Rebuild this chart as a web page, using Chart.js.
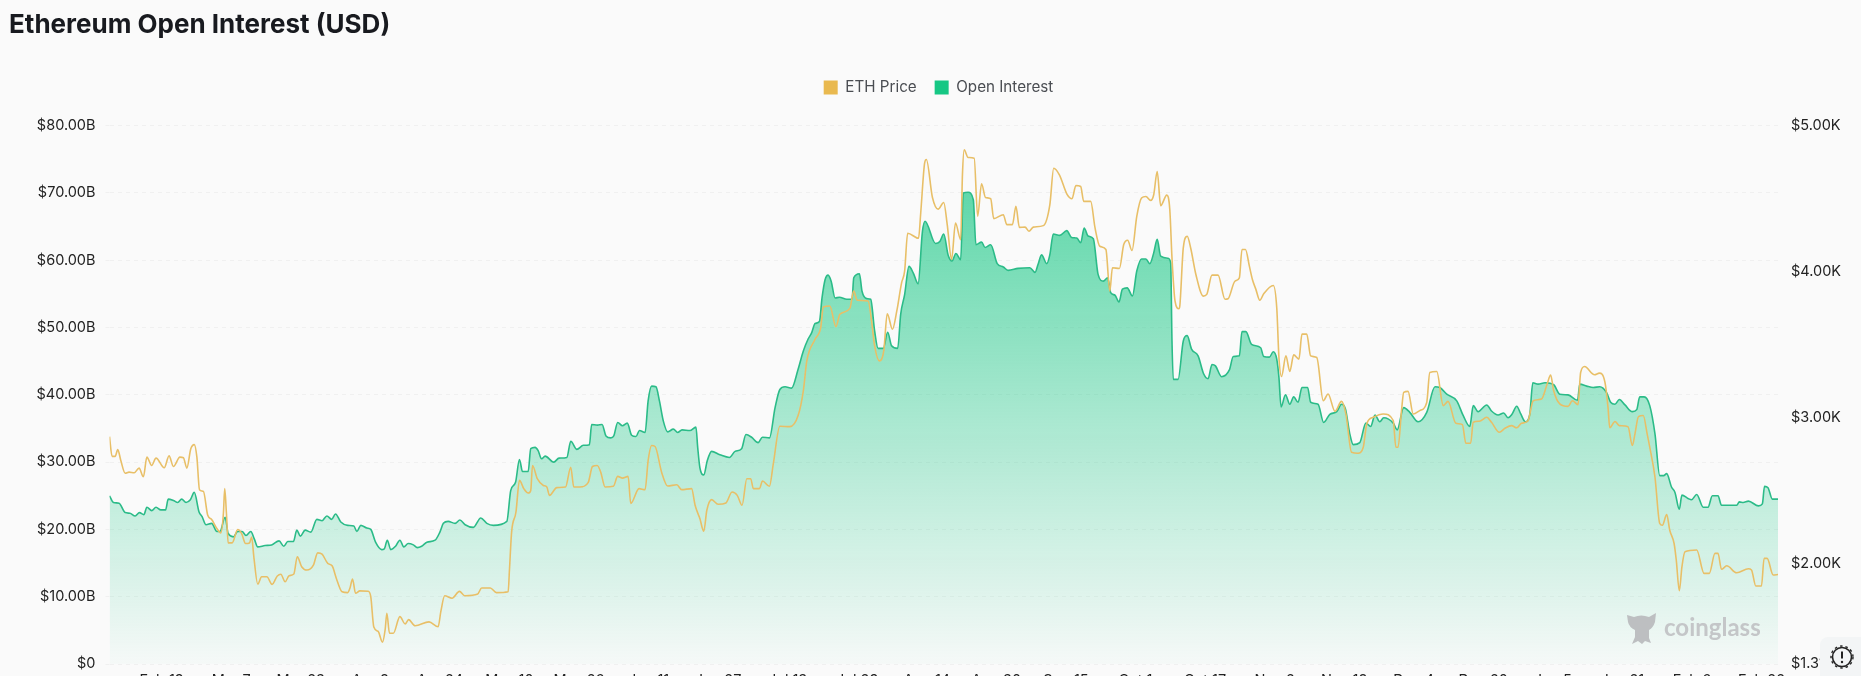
<!DOCTYPE html>
<html>
<head>
<meta charset="utf-8">
<title>Ethereum Open Interest (USD)</title>
<script src="https://cdn.jsdelivr.net/npm/chart.js@4/dist/chart.umd.min.js"></script>
<style>
    html, body { margin: 0; padding: 0; background: #fafafa; overflow: hidden; }
    #wrap { position: relative; width: 1861px; height: 676px; font-family: Inter, sans-serif; }
    #wrap canvas { position: absolute; left: 0; top: 0; }
    h1 { position: absolute; left: 9px; top: 9px; margin: 0; font-size: 26px; line-height: 30px; font-weight: 700; color: #181a1f; z-index: 2; }
    #mark { position: absolute; left: 1626px; top: 611px; width: 140px; height: 34px; z-index: 2; }
    #mark span { position: absolute; left: 38px; top: 1px; font: 700 24px Lato, sans-serif; color: #c4c6c8; }
    #report { position: absolute; left: 1820px; top: 637px; width: 41px; height: 39px; background: #f3f5f6; border-top-left-radius: 8px; z-index: 2; }
</style>
</head>
<body>
<div id="wrap">
    <h1>Ethereum Open Interest (USD)</h1>
    <canvas id="oiChart" width="1861" height="676"></canvas>
    <div id="mark">
        <svg width="32" height="34" viewBox="0 0 32 34"><path d="M1 4 L8 6 Q15 3 23 6 L30 2 L29 11 Q27 17 23 19 L23 27 L25 32 L19 30 L16 33 L12 30 L6 33 L9 26 L9 19 Q3 16 2 11 Z" fill="#bdbfc1"/></svg>
        <span>coinglass</span>
    </div>
    <div id="report">
        <svg width="41" height="39" viewBox="0 0 41 39">
            <circle cx="22" cy="20" r="9.5" fill="none" stroke="#222" stroke-width="1.6"/>
            <circle cx="22" cy="20" r="11" fill="none" stroke="#222" stroke-width="1.4" stroke-dasharray="2.5 3"/>
            <path d="M22 14.5 V21.5" stroke="#222" stroke-width="2"/>
            <circle cx="22" cy="25" r="1.2" fill="#222"/>
        </svg>
    </div>
</div>
<script>
// open interest, $ billions. days counted from the left edge
const oiDays = [0,0.9,2.2,3.6,4.7,5.9,6.9,7.9,8.6,9.7,10.7,11.8,12.9,13.5,14.7,15.7,16.6,17.6,18.6,19.5,20.6,21.3,22.2,23.5,24.7,25.4,26.6,27.3,28.5,29.5,30.5,31.4,32.5,33.3,34.1,35.8,37.3,39,40.1,41,42.3,43.1,43.9,45,46.3,47.7,48.9,50,51.1,52,53.2,54.8,56.2,56.9,57.8,59.2,60.1,61.2,62.6,63.2,63.9,64.7,65.8,66.8,67.7,68.7,69.9,70.8,71.8,73,74.9,76,76.8,77.9,79.5,80.6,81.8,83.7,85.4,86.8,88.3,91.4,92.3,93.4,94.3,95,96.3,96.9,97.9,98.6,99.4,100.2,102.2,103.4,105.2,106.1,107.5,109,110.4,110.9,112.2,113.3,114.2,115.3,116,116.9,118,119.1,120.1,121.1,121.9,123.2,123.9,124.7,125.7,126.5,127.4,128.4,129.7,130.7,131.7,133.5,134.9,135.3,135.8,136.7,137.5,138.5,140.4,142.6,143.9,145.4,146.4,147.7,149.2,150.2,151.8,153.1,154.2,155.4,156.9,158.4,159.6,160.7,161.5,162.3,163.3,163.9,164.6,165.3,166,166.9,167.9,169.6,170.8,171.2,172.5,173.1,174.2,175.1,176,176.8,178,179,179.9,181.3,182,182.9,183.9,184.9,186,187,187.6,190,191,191.9,192.9,193.8,194.7,195.8,196.4,197.5,198.7,199.3,200.6,201.4,202.7,204.2,205.6,206.7,209,211.7,212.9,213.6,214.4,215.6,216.3,217.1,218.6,220.2,221.3,222.5,223.4,224.2,225.1,226.3,227.4,228.6,229.6,230.3,231.3,232.2,233,234.1,235.3,236.3,237.4,238.4,239.3,240.2,241,241.8,243.5,244.1,244.4,244.7,245.8,247,247.9,248.9,250.4,251.7,252.7,253.6,254.4,255.8,257.6,258.5,259.9,260.5,261.4,262.7,264.8,265.5,266.8,267.7,268.5,269,269.5,270.5,271.5,272.4,273.4,274.3,275.6,276.3,278,279.3,280.7,282.3,283.4,284.3,285.3,286.1,287.6,289,290.1,291.1,292.2,293.1,295.3,296.2,297.7,299.1,301,303,304.9,306,307.6,309.9,311.4,312.9,313.7,314.8,316.8,317.9,319.4,320.7,321.7,322.6,323.7,324.6,325.7,326.7,327.4,328.6,330.2,332.2,333.6,335.5,337.7,338.2,339.8,341.3,342.8,344.4,345.3,346.3,347.3,348.6,350.3,351.3,352,353,354.3,355.5,356.6,357.5,358.2,359.3,360.1,361.1,361.7,363.1,363.9,365.1,366.6,367.7,368.7,370,370.8,374.3,374.9,375.8,377,379.3,380.2,380.7,381.5,382.5,383.8];
const oiValues = [25,24,23.9,22.5,22.4,22,22.5,22.2,23.3,22.8,23.3,22.9,22.9,24.5,24.3,24,24.5,24,24.4,25.5,22.6,21.9,20.7,20.9,19.7,19.7,21.8,19.4,18.9,19.7,19.7,19.1,19.7,18.6,17.4,17.6,17.7,18.3,17.5,18.2,18.2,19.9,19,19.9,19.6,21.5,21.3,22,21.5,22.3,21.1,20.6,20.5,19.7,20.6,20.2,20,18.1,17,17.1,18.4,17,17.5,18.4,17.4,17.9,17.7,17.3,17.5,18.1,18.4,19.6,20.9,21.2,20.9,21.4,20.7,20.3,21.7,20.9,20.6,21.2,25.8,27,30.4,28.6,28.6,32,32.2,31.7,30.5,30.9,30,30.6,30.7,33.1,31.9,32.5,32.6,35.6,35.5,35.6,33.9,33.6,33.9,35.9,35.4,35.8,34,33.8,34.7,34.4,39.1,41.3,41.2,39.1,36.1,34.5,34.9,34.4,34.8,34.7,35.2,32.2,29.2,28.1,30.2,31.6,31.1,30.7,31.6,32,34.1,33.7,32.9,33.7,33.6,38.1,40.8,41.2,41,43.8,46.5,48.3,49.2,50.6,50.9,54.4,57.1,57.8,56.9,54.4,54.5,54.2,54.2,57.4,58,55.4,54.3,54.2,49.5,46.9,46.9,49.3,47.3,46.9,52,54.9,59.1,58.1,56.5,64.3,65.8,62.5,62.8,63.9,60.8,59.9,61,60.1,70,70.1,69,62.3,62.7,61.9,62.3,59.5,59,58.5,58.8,58.9,58.2,59.4,60.8,59.5,60.8,63.9,63.7,64.4,63.4,63.3,62.6,64.8,63.6,63.2,57.9,56.9,57.4,55.2,54.8,53.8,55.7,55.9,54.7,58.4,60.2,60.2,59.5,61.1,63.1,60.6,60.3,59.6,48,42.3,42.3,48,48.8,46.8,45.8,43.1,42.4,44.5,44.3,42.7,43.7,45.7,45.8,49.4,49.4,47.5,47,45.7,45.6,46.4,45.3,42.6,38.2,40,38.6,39.7,38.9,41.1,41.1,38.9,38.6,35.9,37.1,37.5,38.6,37.9,34.2,32.6,32.9,35.8,35.3,37,36,36.6,35.8,34.8,38.1,37.4,36,37.4,41.2,41.1,40.1,39.1,36.9,35.3,38.4,37.5,38.5,37.6,37,37.3,36.6,37.1,38.3,37.2,36,37.1,41.8,41.6,41.8,41.5,40.1,40,39.2,41.6,41.3,41.1,41.2,40.3,38.9,38.6,39.3,38.5,37.5,37.8,39.7,39.7,38.4,34.2,28,28,28.3,26.3,25.5,23,25.1,24.6,24.4,25.2,23.3,23.3,25,25,23.6,23.6,24.1,24,24.2,23.5,23.8,26.4,26.2,24.5,24.5];

// ETH price, $
const priceDays = [0,0.6,1.3,1.9,2.6,3.6,4.5,5.7,6.8,7.8,8.6,9.7,10.7,12.6,13.7,14.7,16.2,17,17.8,18.7,19.5,20.1,20.7,21.6,22.6,23.5,24.7,25.6,26.2,26.5,26.9,27.3,28.2,29.5,30.4,31.3,32.2,32.7,33.2,34.1,35,36.2,37.4,38.6,39.4,40.4,41.3,42.4,43.2,44.2,45.4,46.9,47.9,48.9,50.2,51.2,52.3,53.5,54.8,55.3,55.9,56.6,57.6,59.5,60.1,60.8,61.8,62.8,63.4,63.8,64.4,65.3,66.8,68,68.8,70.3,73.5,75.6,76.2,77.1,78.8,80.5,81.7,84.7,85.6,87.6,89,91.7,92,92.5,93.5,94.3,95.3,96.3,96.9,97.3,98.4,99.8,100.6,101.2,102.9,104.9,106.1,106.8,108.2,110.1,111.1,112.2,113,114,115.9,116.9,118,119.3,119.9,121.8,123.2,123.9,124.7,125.5,127,128.4,130.5,131.6,133.9,134.7,135.8,136.7,137.4,138.5,140,141.8,143.2,144.4,145.5,146.6,147.5,148.1,149.5,150.2,151.8,152.7,154.2,156.5,158.4,159.6,160.4,162.3,163.6,164.2,165.7,167.1,168,170.3,171.2,172,174.5,175.3,176,177.1,178.1,178.9,180.1,181.1,182.2,182.9,183.6,186.1,186.6,187.5,187.9,189.3,190.6,191.9,192.7,193.7,194.6,195.8,196.2,196.6,197.5,198.9,199.7,200.6,201.5,202.7,203.4,205.6,206.4,207.7,208.5,209.3,210.6,211.5,212.5,214.8,216.3,217.2,218.5,220.3,221.4,222.3,223.4,224.1,225.7,226.7,227.8,229.2,230.1,230.7,232.3,233.3,234.2,235.2,236.3,237.4,238.4,239.5,240.2,241,241.8,243.2,243.9,244.4,245.1,246,246.2,247,247.9,248.7,249.9,251.6,252.4,253.6,255,256.6,257.3,258.9,259.9,260.5,261.3,262.2,262.9,263.7,264.6,265.5,267.7,268.5,269,269.6,270.6,271.5,272.4,273.6,274.3,275.4,276.3,277.7,279.2,280.3,281.9,283.4,284.4,285.7,287.2,288.4,289.2,290.7,293,295.3,295.9,296.4,297.2,297.7,298.7,299.9,301.4,303,303.7,305.3,306.8,307.9,309.7,311.2,312,313.1,313.7,315.1,316.8,317.9,319.7,321,322.5,323.7,324.8,326.3,327.5,329.4,330.7,331.5,332.2,333.6,335.5,336.5,337.8,338.4,339.3,341.6,342.7,344,344.7,345.1,346.3,347.3,349.3,350.3,350.9,351.7,352.8,353.7,354.3,355.5,356.6,357.2,358.2,358.9,359.9,360.4,361.1,361.7,362.4,365.1,366.8,368,369.3,370,370.8,372,374.3,377,377.7,378.7,380,380.6,381.3,382.7,383.8];
const priceValues = [2869,2733,2733,2780,2705,2618,2625,2621,2653,2594,2728,2671,2721,2655,2737,2664,2728,2724,2653,2785,2814,2728,2505,2493,2329,2300,2239,2209,2341,2512,2341,2140,2140,2232,2204,2136,2140,2181,2045,1858,1908,1908,1856,1913,1925,1874,1915,1927,2045,1977,1954,1988,2072,2063,2000,1983,1886,1805,1799,1829,1892,1795,1811,1809,1772,1563,1533,1460,1544,1658,1521,1521,1635,1585,1614,1572,1599,1565,1667,1778,1761,1808,1778,1790,1831,1831,1799,1805,1954,2216,2352,2569,2512,2482,2500,2671,2580,2534,2523,2466,2519,2523,2659,2523,2523,2553,2664,2671,2625,2523,2528,2596,2584,2596,2410,2512,2505,2705,2808,2801,2625,2530,2539,2505,2512,2398,2307,2220,2364,2437,2405,2414,2489,2466,2398,2580,2580,2512,2512,2564,2528,2683,2940,2937,3013,3183,3388,3536,3616,3757,3764,3623,3707,3748,3866,3803,3798,3661,3491,3388,3456,3711,3605,3730,3923,4003,4263,4228,4400,4743,4768,4508,4428,4474,4322,4083,4333,4219,4663,4834,4782,4777,4379,4602,4508,4499,4363,4390,4322,4322,4447,4303,4305,4276,4305,4315,4458,4708,4663,4527,4499,4590,4583,4481,4481,4299,4174,4151,3866,4026,4021,4185,4215,4144,4379,4504,4515,4488,4527,4686,4452,4524,4424,4094,3798,3745,3764,4162,4242,4162,3980,3832,3844,3976,3976,3810,3814,3935,3957,4151,4151,4037,3946,3878,3803,3848,3905,3752,3411,3281,3422,3315,3429,3400,3571,3571,3422,3411,3115,3161,3042,3110,3024,2762,2755,2796,2956,3001,3024,2978,2796,2796,3047,3172,3179,3024,3047,3103,3308,3315,3081,3110,2960,2951,2823,2823,2967,2974,3001,2967,2899,2926,2944,2929,2960,2978,3115,3126,3229,3291,3183,3093,3076,3115,3088,3308,3349,3293,3304,3240,3069,2929,2972,2944,2937,2808,2888,3006,3013,2888,2796,2591,2273,2261,2334,2227,2136,2022,1812,1976,2079,2091,1931,1931,2068,2068,1959,1983,1935,1963,1955,1845,1845,2034,2034,1920,1924];

// the reference cuts these labels off at the page edge, so the dates are a guess from the price history
const xTickDays = [12,28,44,60,76,92,108,124,140,156,172,188,204,220,236,252,268,284,300,316,332,348,364,380];
const xTickLabels = ['Feb 19','Mar 7','Mar 23','Apr 8','Apr 24','May 10','May 26','Jun 11','Jun 27','Jul 13','Jul 29','Aug 14','Aug 30','Sep 15','Oct 1','Oct 17','Nov 2','Nov 18','Dec 4','Dec 20','Jan 5','Jan 21','Feb 6','Feb 22'];
const oiTicks = [0,10,20,30,40,50,60,70,80];
const priceTicks = [1310,2000,3000,4000,5000];

const toPoints = (days, values) => days.map((d, i) => ({ x: d, y: values[i] }));

function oiGradient(context) {
    const area = context.chart.chartArea;
    if (!area) return 'rgba(22, 199, 132, 0.4)';
    const g = context.chart.ctx.createLinearGradient(0, area.top, 0, area.bottom);
    g.addColorStop(0, 'rgba(22, 199, 132, 0.76)');
    g.addColorStop(1, 'rgba(22, 199, 132, 0.02)');
    return g;
}

// extra room under the legend
const legendGap = {
    id: 'legendGap',
    beforeInit(chart) {
        const fit = chart.legend.fit;
        chart.legend.fit = function () {
            fit.call(this);
            this.height += 20.5;
        };
    }
};

// the $0 and $1.31K labels may hang below the plot, the x labels run off the page anyway
function fitYAxis(scale, width) {
    scale.width = width;
    scale.paddingTop = 0;
    scale.paddingBottom = 0;
}

const tickFont = { family: 'Inter, sans-serif', size: 14.5 };

new Chart(document.getElementById('oiChart'), {
    type: 'line',
    plugins: [legendGap],
    data: {
        datasets: [
            {
                label: 'ETH Price',
                data: toPoints(priceDays, priceValues),
                yAxisID: 'yPrice',
                borderColor: '#e8bf67',
                backgroundColor: '#e9b94f',
                borderWidth: 1.6,
                pointRadius: 0,
                cubicInterpolationMode: 'monotone',
                fill: false
            },
            {
                label: 'Open Interest',
                data: toPoints(oiDays, oiValues),
                yAxisID: 'yOi',
                borderColor: '#2bbb88',
                backgroundColor: oiGradient,
                borderWidth: 1.6,
                pointRadius: 0,
                cubicInterpolationMode: 'monotone',
                fill: 'origin'
            }
        ]
    },
    options: {
        responsive: false,
        animation: false,
        layout: { padding: { top: 62, left: 16 } },
        plugins: {
            tooltip: { enabled: false },
            legend: {
                position: 'top',
                labels: {
                    boxWidth: 14,
                    boxHeight: 14,
                    padding: 18,
                    color: '#4a4d52',
                    font: { family: 'Inter, sans-serif', size: 15.2 },
                    generateLabels(chart) {
                        return chart.data.datasets.map((ds, i) => ({
                            text: ds.label,
                            fillStyle: i === 0 ? '#e9b94f' : '#16c784',
                            strokeStyle: i === 0 ? '#e9b94f' : '#16c784',
                            lineWidth: 0,
                            fontColor: '#4a4d52',
                            datasetIndex: i
                        }));
                    }
                }
            }
        },
        scales: {
            x: {
                type: 'linear',
                min: 0,
                max: 383.8,
                grid: { display: false, drawTicks: false },
                border: { display: false },
                afterFit(scale) { scale.height = 12; },
                afterBuildTicks(scale) { scale.ticks = xTickDays.map(v => ({ value: v })); },
                ticks: {
                    autoSkip: false,
                    maxRotation: 0,
                    padding: 8,
                    color: '#222',
                    font: tickFont,
                    callback: (value) => xTickLabels[xTickDays.indexOf(value)]
                }
            },
            yOi: {
                position: 'left',
                min: 0,
                max: 80,
                border: { display: false, dash: [4, 4] },
                grid: { color: '#f0f0f0', tickLength: 4, tickColor: '#f0f0f0', tickBorderDash: [4, 4] },
                afterFit(scale) { fitYAxis(scale, 93.5); },
                afterBuildTicks(scale) { scale.ticks = oiTicks.map(v => ({ value: v })); },
                ticks: {
                    padding: 10,
                    color: '#222',
                    font: tickFont,
                    callback: (v) => v === 0 ? '$0' : '$' + v.toFixed(2) + 'B'
                }
            },
            yPrice: {
                position: 'right',
                min: 1310,
                max: 5000,
                border: { display: false },
                grid: { display: false },
                afterFit(scale) { fitYAxis(scale, 83); },
                afterBuildTicks(scale) { scale.ticks = priceTicks.map(v => ({ value: v })); },
                ticks: {
                    padding: 5,
                    color: '#222',
                    font: tickFont,
                    callback: (v) => '$' + (v / 1000).toFixed(2) + 'K'
                }
            }
        }
    }
});
</script>
</body>
</html>
